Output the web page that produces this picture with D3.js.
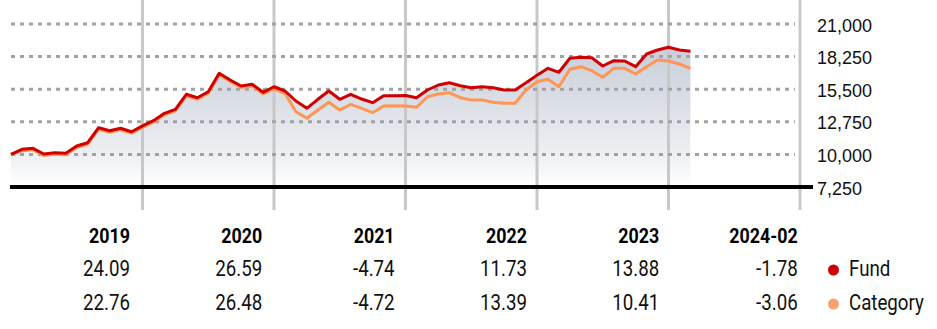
<!DOCTYPE html>
<html>
<head>
<meta charset="utf-8">
<script src="https://cdn.jsdelivr.net/npm/d3@7"></script>
<style>
  html, body { margin: 0; padding: 0; background: #fff; }
  svg { display: block; }
</style>
</head>
<body>
<svg id="chart" width="937" height="329"></svg>
<script>
// ---- Data (growth of 10,000, monthly, Dec 2018 .. Feb 2024) ----
const fundValues = [
  10000, 10430, 10515, 10034, 10143, 10093, 10709, 10987, 12252, 11999, 12202, 11915,
  12409, 12843, 13467, 13805, 15070, 14783, 15289, 16841, 16276, 15770, 15913, 15239,
  15708, 15348, 14505, 13889, 14648, 15348, 14648, 15070, 14673, 14361, 14952, 14952,
  14964, 14783, 15433, 15854, 16048, 15795, 15627, 15711, 15627, 15433, 15433, 16048,
  16680, 17263, 16926, 18107, 18191, 18157, 17457, 17904, 17879, 17398, 18469, 18807,
  19040, 18807, 18701
];
const categoryValues = [
  10000, 10303, 10388, 9907, 10016, 9966, 10582, 10860, 12125, 11872, 12075, 11788,
  12276, 12716, 13340, 13678, 14943, 14656, 15162, 16714, 16149, 15643, 15786, 15112,
  15527, 15137, 13602, 13045, 13745, 14395, 13745, 14226, 13889, 13518, 14083, 14108,
  14083, 13973, 14867, 15095, 15205, 14783, 14589, 14589, 14395, 14311, 14311, 15433,
  16133, 16335, 15711, 17179, 17398, 17061, 16504, 17263, 17263, 16782, 17398, 17963,
  17879, 17626, 17263
];
const yTicks = [7250, 10000, 12750, 15500, 18250, 21000];
const periods = ["2019", "2020", "2021", "2022", "2023", "2024-02"];
const fundReturns = ["24.09", "26.59", "-4.74", "11.73", "13.88", "-1.78"];
const categoryReturns = ["22.76", "26.48", "-4.72", "13.39", "10.41", "-3.06"];
const seriesNames = ["Fund", "Category"];
const seriesColors = ["#d10000", "#ff9655"];
const legendColors = ["#d10000", "#f9a16d"];

// ---- Layout ----
const svg = d3.select("#chart");
const monthsTotal = 72; // Dec 2018 .. Dec 2024
const x = d3.scaleLinear().domain([0, monthsTotal]).range([11, 800]);
const y = d3.scaleLinear().domain([7250, 21000]).range([187, 24]);

// gradient
const defs = svg.append("defs");
const grad = defs.append("linearGradient")
  .attr("id", "areaGrad").attr("gradientUnits", "userSpaceOnUse")
  .attr("x1", 0).attr("x2", 0).attr("y1", 40).attr("y2", 187);
grad.append("stop").attr("offset", "0%").attr("stop-color", "#c6cbd6");
grad.append("stop").attr("offset", "75%").attr("stop-color", "#eceef2");
grad.append("stop").attr("offset", "100%").attr("stop-color", "#ffffff");

// area under lines
const area = d3.area()
  .x((d, i) => x(i))
  .y0(y(7250))
  .y1((d, i) => y(Math.max(d, categoryValues[i])));
svg.append("path").datum(fundValues)
  .attr("d", area).attr("fill", "url(#areaGrad)");

// vertical year grid lines
const yearEnds = d3.range(12, monthsTotal + 1, 12);
svg.append("g").selectAll("line").data(yearEnds).join("line")
  .attr("x1", d => x(d)).attr("x2", d => x(d))
  .attr("y1", 0).attr("y2", 210)
  .attr("stroke", "#c8c8c8").attr("stroke-width", 3);

// horizontal dotted grid lines
svg.append("g").selectAll("line").data(yTicks.slice(1)).join("line")
  .attr("x1", 11).attr("x2", 795)
  .attr("y1", d => y(d)).attr("y2", d => y(d))
  .attr("stroke", "#a2a2a2").attr("stroke-width", 3)
  .attr("stroke-dasharray", "4,5");

// baseline
svg.append("line")
  .attr("x1", 10).attr("x2", 813)
  .attr("y1", y(7250)).attr("y2", y(7250))
  .attr("stroke", "#000").attr("stroke-width", 4);

// y axis labels
const fmt = d3.format(",");
svg.append("g").selectAll("text").data(yTicks).join("text")
  .attr("x", 817).attr("y", d => y(d) + 7.5)
  .attr("font-family", "'Liberation Sans', Arial, sans-serif")
  .attr("font-size", 18).attr("fill", "#111")
  .text(d => fmt(d));

// lines
const line = d3.line().x((d, i) => x(i)).y(d => y(d)).curve(d3.curveLinear);
svg.append("path").datum(categoryValues)
  .attr("d", line).attr("fill", "none")
  .attr("stroke", seriesColors[1]).attr("stroke-width", 3)
  .attr("stroke-linejoin", "round");
svg.append("path").datum(fundValues)
  .attr("d", line).attr("fill", "none")
  .attr("stroke", seriesColors[0]).attr("stroke-width", 3)
  .attr("stroke-linejoin", "round");

// ---- Table (condensed look: Roboto squeezed horizontally) ----
const colRight = periods.map((p, i) => i < periods.length - 1 ? 130 + i * 132.3 : 797.7);
const tFont = "Roboto, 'Liberation Sans', sans-serif";
const sx = 0.85;
const tbl = svg.append("g").attr("font-family", tFont).attr("text-anchor", "end");
tbl.selectAll("text.hdr").data(periods).join("text").attr("class", "hdr")
  .attr("transform", (d, i) => `translate(${colRight[i]},243) scale(${sx},1)`)
  .attr("font-size", 21).attr("font-weight", "bold").attr("fill", "#000")
  .text(d => d);
tbl.selectAll("text.f").data(fundReturns).join("text").attr("class", "f")
  .attr("transform", (d, i) => `translate(${colRight[i]},276) scale(${sx},1)`)
  .attr("font-size", 22).attr("fill", "#111")
  .text(d => d);
tbl.selectAll("text.c").data(categoryReturns).join("text").attr("class", "c")
  .attr("transform", (d, i) => `translate(${colRight[i]},310) scale(${sx},1)`)
  .attr("font-size", 22).attr("fill", "#111")
  .text(d => d);

// legend
const leg = svg.append("g");
const legY = [270, 304];
leg.selectAll("circle").data(seriesNames).join("circle")
  .attr("cx", 833.5).attr("cy", (d, i) => legY[i]).attr("r", 5.5)
  .attr("fill", (d, i) => legendColors[i]);
leg.selectAll("text").data(seriesNames).join("text")
  .attr("transform", (d, i) => `translate(849,${legY[i] + 6}) scale(${sx},1)`)
  .attr("font-family", tFont).attr("font-size", 22).attr("fill", "#111")
  .text(d => d);
</script>
</body>
</html>
